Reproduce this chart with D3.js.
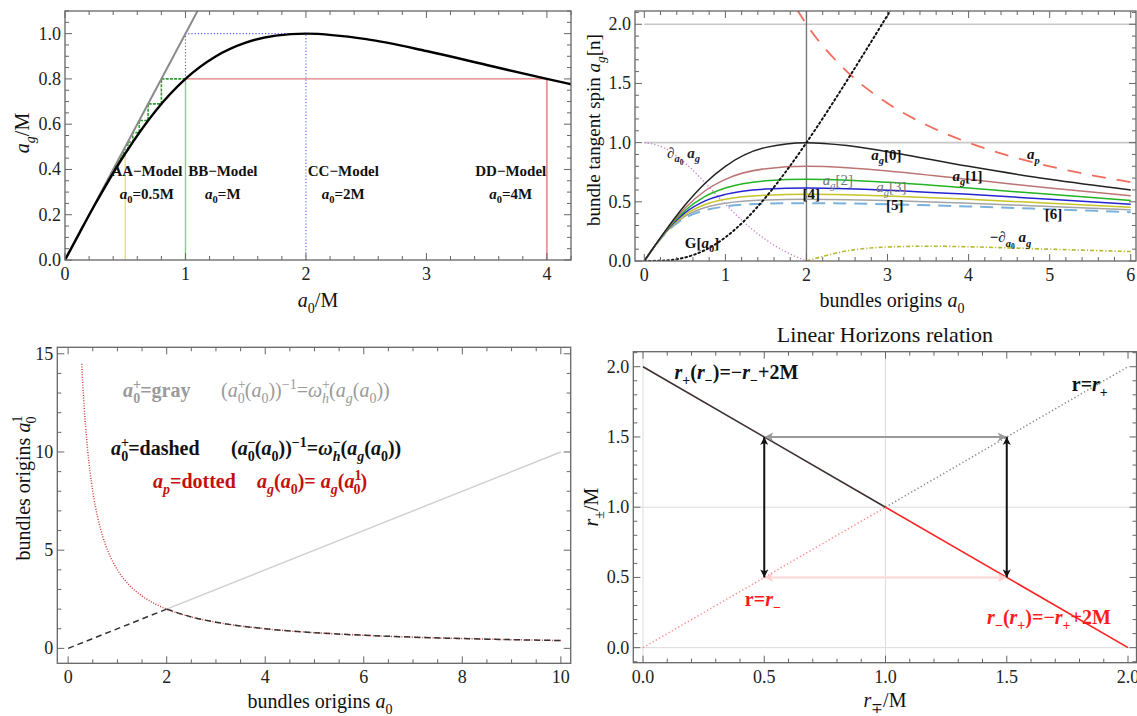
<!DOCTYPE html>
<html><head><meta charset="utf-8">
<script src="https://cdn.jsdelivr.net/npm/d3@7"></script>
<style>body{margin:0;background:#fff}svg text,svg tspan{font-family:"Liberation Serif","Times New Roman","DejaVu Serif",serif}</style>
</head><body><svg id="c" width="1137" height="716" font-family="Liberation Serif, Times New Roman, DejaVu Serif, serif"></svg>
<script>
// ---------------- DATA ----------------
// Panel 1 (top-left): a_g(a0)
const tlX = [0,0.125,0.25,0.5,0.75,1,1.25,1.5,1.75,2,2.5,3,3.5,4,4.2];
const tlY = [0,0.12451,0.24615,0.47059,0.65753,0.8,0.89888,0.96,0.99115,1,0.97561,0.92308,0.86154,0.8,0.77634];
const identX = [0,1.2], identY = [0,1.2];
const modelA0 = [0.5,1,2,4];
const modelAg = [0.47059,0.8,1,0.8];
const modelNames = ["AA−Model","BB−Model","CC−Model","DD−Model"];
const modelVals = ["0.5M","M","2M","4M"];
const cobweb = [1,0.8,0.68966,0.61637,0.56291,0.52159,0.48837,0.46089,0.43765,0.41765,0.40020,0.38479,0.37106,0.35871,0.34753,0.33734,0.32801];
const p1XTicks=[0,1,2,3,4], p1YTicks=[0,0.2,0.4,0.6,0.8,1.0];

// Panel 2 (top-right): iterates a_g[n]
const a0Grid = [0,0.125,0.25,0.5,0.75,1,1.5,2,2.5,3,4,5,6];
const ag0 = [0,0.12451,0.24615,0.47059,0.65753,0.8,0.96,1,0.97561,0.92308,0.8,0.68966,0.6];
const ag1 = [0,0.12403,0.24248,0.44590,0.59340,0.68966,0.78023,0.8,0.78808,0.76098,0.68966,0.61637,0.55046];
const ag2 = [0,0.12355,0.23897,0.42478,0.54539,0.61637,0.67717,0.68966,0.68215,0.66474,0.61637,0.56291,0.51170];
const ag3 = [0,0.12308,0.23561,0.40645,0.50764,0.56291,0.60752,0.61637,0.61107,0.59862,0.56291,0.52159,0.48027];
const ag4 = [0,0.12262,0.23238,0.39033,0.47691,0.52159,0.55620,0.56291,0.55890,0.54940,0.52159,0.48837,0.45409];
const ag5 = [0,0.12216,0.22929,0.37601,0.45125,0.48837,0.51627,0.52159,0.51841,0.51085,0.48837,0.46089,0.43183];
const ag6 = [0,0.12171,0.22631,0.36317,0.42939,0.46089,0.48402,0.48837,0.48577,0.47956,0.46089,0.43765,0.41260];
const apX = [1.88,2,2.5,3,3.5,4,4.5,5,5.5,6];
const apY = [2.1277,2,1.6,1.3333,1.1429,1,0.8889,0.8,0.7273,0.6667];
const gX = [0,0.25,0.5,0.75,1,1.25,1.5,1.75,2,2.25,2.5,2.75,3,3.1];
const gY = [0,0.0038,0.0294,0.0925,0.2,0.3511,0.54,0.7588,1,1.2569,1.5244,1.7986,2.0769,2.1889];
const dX = [0,0.25,0.5,0.75,1,1.25,1.5,1.75,2];
const dY = [1,0.9543,0.8304,0.6605,0.48,0.3151,0.1792,0.0752,0];
const ndX = [2,2.5,3,3.5,4,4.5,5,5.5,6];
const ndY = [0,0.0857,0.1183,0.1250,0.12,0.1105,0.0999,0.0895,0.08];
const refLevels = [1,2];
const refA0 = 2;
const p2XTicks=[0,1,2,3,4,5,6], p2YTicks=[0,0.5,1,1.5,2];

// Panel 3 (bottom-left)
const blX = [0.276,0.3,0.35,0.4,0.5,0.6,0.7,0.8,1,1.25,1.5,1.75,2,2.5,3,4,5,6,7,8,9,10];
const blY = [14.49,13.33,11.43,10,8,6.667,5.714,5,4,3.2,2.667,2.286,2,1.6,1.333,1,0.8,0.667,0.571,0.5,0.444,0.4];
const grayX = [2,10], grayY = [2,10];
const dashLinX = [0,2], dashLinY = [0,2];
const p3XTicks=[0,2,4,6,8,10], p3YTicks=[0,5,10,15];

// Panel 4 (bottom-right)
const rBlackX=[0,1], rBlackY=[2,1];
const rRedX=[1,2], rRedY=[1,0];
const rGrayDotX=[1,2], rGrayDotY=[1,2];
const rPinkDotX=[0,1], rPinkDotY=[0,1];
const arrowLevels=[0.5,1.5];
const gridVals=[0,1];
const p4XTicks=[0,0.5,1,1.5,2], p4YTicks=[0,0.5,1,1.5,2];

// ---------------- SETUP ----------------
const FONT='Liberation Serif, Times New Roman, DejaVu Serif, serif';
const svg=d3.select('#c');
const defs=svg.append('defs');
const P1={x:d3.scaleLinear().domain([0,4.2]).range([65,571]), y:d3.scaleLinear().domain([0,1.1]).range([260,11])};
const P2={x:d3.scaleLinear().domain([-0.115,6.065]).range([635,1136]), y:d3.scaleLinear().domain([0,2.112]).range([261,11])};
const P3={x:d3.scaleLinear().domain([-0.22,10.2]).range([57.3,570.7]), y:d3.scaleLinear().domain([-0.76,15.33]).range([663.3,347.3])};
const P4={x:d3.scaleLinear().domain([-0.04,2.035]).range([633.3,1136.5]), y:d3.scaleLinear().domain([-0.107,2.107]).range([662.7,351.7])};

function clipG(id,P){
  const [L,R]=P.x.range(),[B,T]=P.y.range();
  defs.append('clipPath').attr('id',id).append('rect').attr('x',L).attr('y',T).attr('width',R-L).attr('height',B-T);
  return svg.append('g').attr('clip-path',`url(#${id})`);
}
function path(g,P,xs,ys,st,curve){
  const p=g.append('path').datum(d3.zip(xs,ys))
    .attr('d',d3.line().x(d=>P.x(d[0])).y(d=>P.y(d[1])).curve(curve||d3.curveLinear))
    .attr('fill','none');
  Object.entries(st).forEach(([k,v])=>p.attr(k,v));
  return p;
}
function rich(g,x,y,segs,o={}){
  const fs=o.fs||16;
  const t=g.append('text').attr('x',x).attr('y',y).attr('font-size',fs).attr('font-family',FONT)
    .attr('text-anchor',o.anchor||'start').attr('fill',o.fill||'#111');
  if(o.bold) t.attr('font-weight','bold');
  if(o.rot) t.attr('transform',`rotate(${o.rot},${x},${y})`);
  let cur=0;
  segs.forEach(([s,st=''])=>{
    let off=0,sz=1;
    if(st.includes('_')){off=0.28*fs;sz=0.7;}
    if(st.includes('^')){off=-0.42*fs;sz=0.7;}
    if(st.includes('d')){off=0.45*fs;sz=0.5;}
    const sp=t.append('tspan').text(s).attr('dy',off-cur);
    if(sz!==1) sp.attr('font-size',fs*sz);
    if(st.includes('i')) sp.attr('font-style','italic');
    if(st.includes('b')) sp.attr('font-weight','bold');
    if(st.includes('r')) sp.attr('font-weight','normal');
    if(st.includes('<')) sp.attr('dx',-fs*0.7*0.56);
    cur=off;
  });
  return t;
}
function frame(P,xt,xstep,yt,ystep,fx,fy){
  const g=svg.append('g');
  const [L,R]=P.x.range(),[B,T]=P.y.range();
  const [x0,x1]=P.x.domain(),[y0,y1]=P.y.domain();
  const col='#666';
  g.append('rect').attr('x',L).attr('y',T).attr('width',R-L).attr('height',B-T).attr('fill','none').attr('stroke',col).attr('stroke-width',1.3);
  const near=(v,arr)=>arr.some(a=>Math.abs(a-v)<1e-6);
  const xm=d3.range(Math.ceil(x0/xstep-1e-9)*xstep,x1+1e-9,xstep).filter(v=>!near(v,xt));
  const ym=d3.range(Math.ceil(y0/ystep-1e-9)*ystep,y1+1e-9,ystep).filter(v=>!near(v,yt));
  const tick=(x1_,y1_,x2_,y2_)=>g.append('line').attr('x1',x1_).attr('y1',y1_).attr('x2',x2_).attr('y2',y2_).attr('stroke',col).attr('stroke-width',1);
  xt.forEach(v=>{const X=P.x(v);tick(X,B,X,B-7);tick(X,T,X,T+7);
    g.append('text').attr('x',X).attr('y',B+20).attr('text-anchor','middle').attr('font-size',18).attr('font-family',FONT).attr('fill','#222').text(fx(v));});
  xm.forEach(v=>{const X=P.x(v);tick(X,B,X,B-4);tick(X,T,X,T+4);});
  yt.forEach(v=>{const Y=P.y(v);tick(L,Y,L+7,Y);tick(R,Y,R-7,Y);
    g.append('text').attr('x',L-4).attr('y',Y+6).attr('text-anchor','end').attr('font-size',18).attr('font-family',FONT).attr('fill','#222').text(fy(v));});
  ym.forEach(v=>{const Y=P.y(v);tick(L,Y,L+4,Y);tick(R,Y,R-4,Y);});
}
const f1=d3.format('.1f'), fi=d3.format('d');

// ---------------- PANEL 1 ----------------
{
  const g=clipG('c1',P1);
  path(g,P1,[modelA0[0],modelA0[0]],[0,modelAg[0]],{stroke:'#e4e08a','stroke-width':1.4});
  path(g,P1,[modelA0[1],modelA0[1]],[0,modelAg[1]],{stroke:'#7ed67e','stroke-width':1.4});
  path(g,P1,[modelA0[3],modelA0[3]],[0,modelAg[3]],{stroke:'#e07878','stroke-width':1.4});
  path(g,P1,[modelA0[1],modelA0[3]],[modelAg[1],modelAg[3]],{stroke:'#e07878','stroke-width':1.4});
  path(g,P1,[modelA0[2],modelA0[2]],[0,modelAg[2]],{stroke:'#5a5aee','stroke-width':1.1,'stroke-dasharray':'1.2,2'});
  path(g,P1,[modelA0[1],modelA0[1],modelA0[2]],[modelAg[1],modelAg[2],modelAg[2]],{stroke:'#5a5aee','stroke-width':1.1,'stroke-dasharray':'1.2,2'});
  const cx=[cobweb[0]],cy=[cobweb[1]];
  for(let k=1;k<cobweb.length-1;k++){cx.push(cobweb[k],cobweb[k]);cy.push(cobweb[k],cobweb[k+1]);}
  path(g,P1,cx,cy,{stroke:'#2e9e2e','stroke-width':1.6,'stroke-dasharray':'3,1.2'});
  path(g,P1,identX,identY,{stroke:'#8a8a8a','stroke-width':2});
  path(g,P1,tlX,tlY,{stroke:'#000','stroke-width':2.4},d3.curveMonotoneX);
  const lx=[0.68,1.31,2.31,3.70];
  modelNames.forEach((n,i)=>{
    rich(svg,P1.x(lx[i]),P1.y(0.37),[[n,'b']],{fs:15,anchor:'middle'});
    rich(svg,P1.x(lx[i]),P1.y(0.27),[['a','bi'],['0','b_'],['='+modelVals[i],'b']],{fs:15,anchor:'middle'});
  });
  frame(P1,p1XTicks,0.2,p1YTicks,0.05,fi,f1);
  rich(svg,318,307,[['a','i'],['0','_'],['/M']],{fs:20,anchor:'middle'});
  rich(svg,29,133,[['a','i'],['g','i_'],['/M']],{fs:20,anchor:'middle',rot:-90});
}

// ---------------- PANEL 2 ----------------
{
  const g=clipG('c2',P2);
  const xr=P2.x.domain();
  refLevels.forEach(v=>path(g,P2,[0,xr[1]],[v,v],{stroke:'#c8c8c8','stroke-width':1.6}));
  path(g,P2,[refA0,refA0],P2.y.domain(),{stroke:'#777','stroke-width':1.4});
  path(g,P2,dX,dY,{stroke:'#cc7acc','stroke-width':1.3,'stroke-dasharray':'1.2,2.2'},d3.curveMonotoneX);
  path(g,P2,ndX,ndY,{stroke:'#b8b830','stroke-width':1.6,'stroke-dasharray':'4,2,1.2,2'},d3.curveMonotoneX);
  const series=[[ag6,'#7ab2dc',{'stroke-dasharray':'13,8','stroke-width':2}],[ag5,'#a4a4a4'],[ag4,'#c6c428'],[ag3,'#2424d2'],[ag2,'#22b422'],[ag1,'#bb7474'],[ag0,'#222']];
  series.forEach(([ys,c,extra])=>path(g,P2,a0Grid,ys,Object.assign({stroke:c,'stroke-width':1.5},extra||{}),d3.curveMonotoneX));
  path(g,P2,apX,apY,{stroke:'#f26c5c','stroke-width':1.8,'stroke-dasharray':'14,11'},d3.curveMonotoneX);
  path(g,P2,gX,gY,{stroke:'#111','stroke-width':2,'stroke-dasharray':'1.6,3','stroke-linecap':'round'},d3.curveMonotoneX);
  const L=(xv,yv,segs,o={})=>rich(svg,P2.x(xv),P2.y(yv)+5,segs,Object.assign({fs:15},o));
  L(0.28,0.91,[['∂','b'],['a','bi_'],['0','bd'],[' a','bi'],['g','bi_']],{fill:'#222'});
  L(2.8,0.895,[['a','bi'],['g','bi_'],['[0]','b']]);
  L(3.8,0.72,[['a','bi'],['g','bi_'],['[1]','b']]);
  L(2.2,0.685,[['a','i'],['g','i_'],['[2]']],{fill:'#777'});
  L(2.86,0.625,[['a','i'],['g','i_'],['[3]']],{fill:'#777'});
  L(1.95,0.566,[['[4]','b']]);
  L(2.98,0.475,[['[5]','b']]);
  L(4.94,0.4,[['[6]','b']]);
  L(4.72,0.9,[['a','bi'],['p','bi_']]);
  L(4.26,0.2,[['−∂','b'],['a','bi_'],['0','bd'],[' a','bi'],['g','bi_']]);
  L(0.5,0.15,[['G[','b'],['a','bi'],['0','b_'],[']','b']]);
  frame(P2,p2XTicks,0.2,p2YTicks,0.1,fi,f1);
  rich(svg,892,307,[['bundles origins '],['a','i'],['0','_']],{fs:20,anchor:'middle'});
  rich(svg,600,130,[['bundle tangent spin '],['a','i'],['g','i_'],['[n]']],{fs:19,anchor:'middle',rot:-90});
}

// ---------------- PANEL 3 ----------------
{
  const g=clipG('c3',P3);
  path(g,P3,grayX,grayY,{stroke:'#cfcfcf','stroke-width':1.4});
  path(g,P3,blX,blY,{stroke:'#d04040','stroke-width':1.5,'stroke-dasharray':'1,1.6'},d3.curveMonotoneX);
  path(g,P3,dashLinX,dashLinY,{stroke:'#333','stroke-width':1.5,'stroke-dasharray':'6,4'});
  const hx=blX.filter(v=>v>=2), hy=blY.slice(blX.length-hx.length);
  path(g,P3,hx,hy,{stroke:'#333','stroke-width':1.5,'stroke-dasharray':'6,4'},d3.curveMonotoneX);
  frame(P3,p3XTicks,0.5,p3YTicks,1,fi,fi);
  const fs=20;
  rich(svg,123,397,[['a','i'],['+','^'],['0','_<'],['=gray']],{fs,fill:'#9a9a9a',bold:true});
  rich(svg,221,397,[['('],['a','i'],['+','^'],['0','_<'],['('],['a','i'],['0','_'],['))'],['−1','^'],['='],['ω','i'],['+','^'],['h','i_<'],['('],['a','i'],['g','i_'],['('],['a','i'],['0','_'],['))']],{fs,fill:'#9a9a9a'});
  rich(svg,111,455,[['a','i'],['+','^'],['0','_<'],['=dashed']],{fs,fill:'#111',bold:true});
  rich(svg,231,455,[['('],['a','i'],['−','^'],['0','_<'],['('],['a','i'],['0','_'],['))'],['−1','^'],['='],['ω','i'],['−','^'],['h','i_<'],['('],['a','i'],['g','i_'],['('],['a','i'],['0','_'],['))']],{fs,fill:'#111',bold:true});
  rich(svg,153,488,[['a','i'],['p','i_'],['=dotted']],{fs,fill:'#c41010',bold:true});
  rich(svg,257,488,[['a','i'],['g','i_'],['('],['a','i'],['0','_'],[')= '],['a','i'],['g','i_'],['('],['a','i'],['1','^'],['0','_<'],[')']],{fs,fill:'#c41010',bold:true});
  rich(svg,320,708,[['bundles origins '],['a','i'],['0','_']],{fs:20,anchor:'middle'});
  rich(svg,30,488,[['bundles origins '],['a','i'],['1','^'],['0','_<']],{fs:20,anchor:'middle',rot:-90});
}

// ---------------- PANEL 4 ----------------
{
  function marker(id,c,w,h){
    defs.append('marker').attr('id',id).attr('viewBox','0 0 10 10').attr('refX',10).attr('refY',5)
      .attr('markerWidth',w).attr('markerHeight',h).attr('markerUnits','userSpaceOnUse').attr('orient','auto-start-reverse')
      .append('path').attr('d','M0,0L10,5L0,10L2.5,5Z').attr('fill',c);
  }
  marker('mk','#111',15,8); marker('mg','#999',15,9); marker('mp','#ffcfcf',15,9);
  const g=clipG('c4',P4);
  const xr=P4.x.domain(), yr=P4.y.domain();
  gridVals.forEach(v=>{path(g,P4,[v,v],yr,{stroke:'#dcdcdc','stroke-width':1});path(g,P4,xr,[v,v],{stroke:'#dcdcdc','stroke-width':1});});
  path(g,P4,rPinkDotX,rPinkDotY,{stroke:'#ff8c8c','stroke-width':1.5,'stroke-dasharray':'1.3,2.4'});
  path(g,P4,rGrayDotX,rGrayDotY,{stroke:'#888','stroke-width':1.5,'stroke-dasharray':'1.3,2.4'});
  path(g,P4,rBlackX,rBlackY,{stroke:'#3e3030','stroke-width':1.6});
  path(g,P4,rRedX,rRedY,{stroke:'#ff2020','stroke-width':1.6});
  const [lo,hi]=arrowLevels;
  path(g,P4,[lo,hi],[hi,hi],{stroke:'#9a9a9a','stroke-width':2}).attr('marker-start','url(#mg)').attr('marker-end','url(#mg)');
  path(g,P4,[lo,hi],[lo,lo],{stroke:'#ffd6d6','stroke-width':2}).attr('marker-start','url(#mp)').attr('marker-end','url(#mp)');
  [lo,hi].forEach(v=>path(g,P4,[v,v],[lo,hi],{stroke:'#111','stroke-width':2}).attr('marker-start','url(#mk)').attr('marker-end','url(#mk)'));
  frame(P4,p4XTicks,0.1,p4YTicks,0.1,f1,f1);
  const fs=20;
  rich(svg,P4.x(0.13),P4.y(1.912),[['r','i'],['+','_'],['('],['r','i'],['−','_'],[')=−'],['r','i'],['−','_'],['+2M']],{fs,bold:true,fill:'#111'});
  rich(svg,P4.x(1.768),P4.y(1.827),[['r='],['r','i'],['+','_']],{fs,bold:true,fill:'#111'});
  rich(svg,P4.x(0.42),P4.y(0.297),[['r='],['r','i'],['−','_']],{fs,bold:true,fill:'#ff1a1a'});
  rich(svg,P4.x(1.419),P4.y(0.169),[['r','i'],['−','_'],['('],['r','i'],['+','_'],[')=−'],['r','i'],['+','_'],['+2M']],{fs,bold:true,fill:'#ff1a1a'});
  rich(svg,885,342,[['Linear Horizons relation']],{fs:22,anchor:'middle'});
  rich(svg,885,707,[['r','i'],['∓','_'],['/M']],{fs:20,anchor:'middle'});
  rich(svg,598,507,[['r','i'],['±','_'],['/M']],{fs:20,anchor:'middle',rot:-90});
}
</script></body></html>
